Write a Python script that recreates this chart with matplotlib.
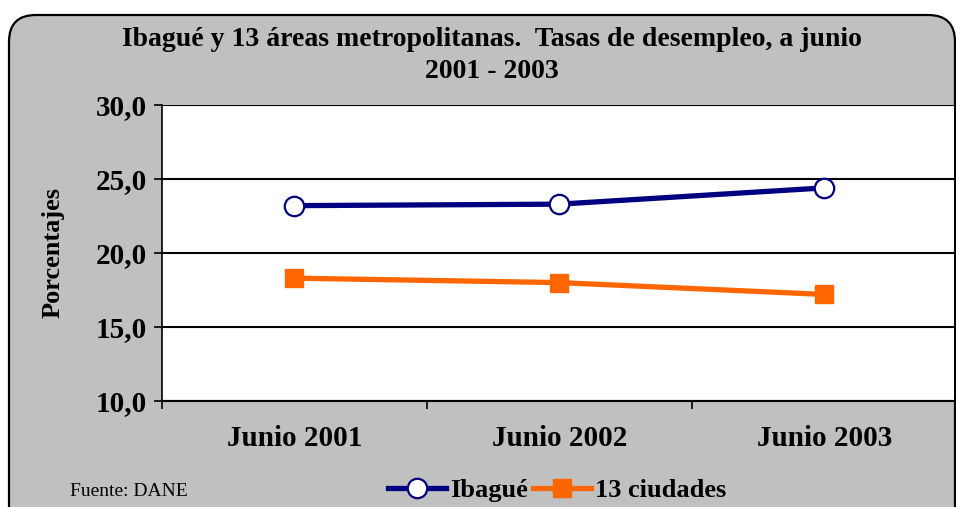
import matplotlib.pyplot as plt
from matplotlib.patches import FancyBboxPatch

categorias = ["Junio 2001", "Junio 2002", "Junio 2003"]
ibague = [23.2, 23.3, 24.4]
ciudades = [18.3, 18.0, 17.2]
yticks = [10.0, 15.0, 20.0, 25.0, 30.0]

fuente = "Liberation Serif"
azul = "#000080"
naranja = "#FF6600"


def main():
    fig = plt.figure(figsize=(9.56, 5.07), dpi=100)
    fig.patch.set_facecolor("white")

    fondo = FancyBboxPatch((9 / 956, -0.06), 946 / 956, 1.06 - 15 / 507,
                           boxstyle="round,pad=0,rounding_size=0.028",
                           transform=fig.transFigure, facecolor="#C0C0C0",
                           edgecolor="black", linewidth=1.6,
                           mutation_aspect=956 / 507, zorder=-5)
    fig.patches.append(fondo)

    ax = fig.add_axes([162 / 956, 1 - 401 / 507, 792 / 956, 296 / 507])
    ax.set_facecolor("white")
    x = list(range(len(categorias)))
    ax.plot(x, ibague, color=azul, lw=3.8, marker="o", ms=14,
            mfc="white", mec=azul, mew=1.6, label="Ibagué", zorder=3)
    ax.plot(x, ciudades, color=naranja, lw=3.8, marker="s", ms=13,
            mfc=naranja, mec=naranja, label="13 ciudades", zorder=3)

    ax.set_ylim(10, 30)
    ax.set_xlim(-0.5, 2.49)
    ax.set_yticks(yticks)
    ax.set_yticklabels([f"{v:.1f}".replace(".", ",") for v in yticks],
                       fontfamily=fuente, fontweight="bold", fontsize=21)
    ax.set_xticks([-0.5, 0.5, 1.5])
    ax.set_xticklabels([])
    ax.set_xticks(x, minor=True)
    ax.set_xticklabels(categorias, minor=True, fontfamily=fuente,
                       fontweight="bold", fontsize=21)
    ax.tick_params(axis="x", which="minor", length=0, pad=17)
    ax.tick_params(axis="x", which="major", length=6, width=1.2, direction="out")
    ax.tick_params(axis="y", length=6, width=1.2, direction="out", pad=5)
    ax.grid(axis="y", color="black", lw=1.5)
    for s in ["top", "right"]:
        ax.spines[s].set_visible(False)
    ax.spines["left"].set_linewidth(1.2)
    ax.spines["bottom"].set_linewidth(1.5)

    ax.set_ylabel("Porcentajes", fontfamily=fuente, fontweight="bold",
                  fontsize=19, labelpad=22)

    fig.text(492 / 956, 1 - 39 / 507, "Ibagué y 13 áreas metropolitanas.  Tasas de desempleo, a junio",
             ha="center", va="center", fontfamily=fuente, fontweight="bold", fontsize=20)
    fig.text(492 / 956, 1 - 71 / 507, "2001 - 2003",
             ha="center", va="center", fontfamily=fuente, fontweight="bold", fontsize=20)
    fig.text(70 / 956, 1 - 492 / 507, "Fuente: DANE", ha="left", va="center",
             fontfamily=fuente, fontsize=14)

    fig.legend(loc="center", bbox_to_anchor=(557 / 956, 1 - 490 / 507), ncol=2,
               frameon=False, handlelength=2.2, handletextpad=0.15, columnspacing=0.2,
               prop={"family": fuente, "weight": "bold", "size": 19})

    fig.savefig("out.png", dpi=100, facecolor=fig.get_facecolor())


if __name__ == "__main__":
    main()
